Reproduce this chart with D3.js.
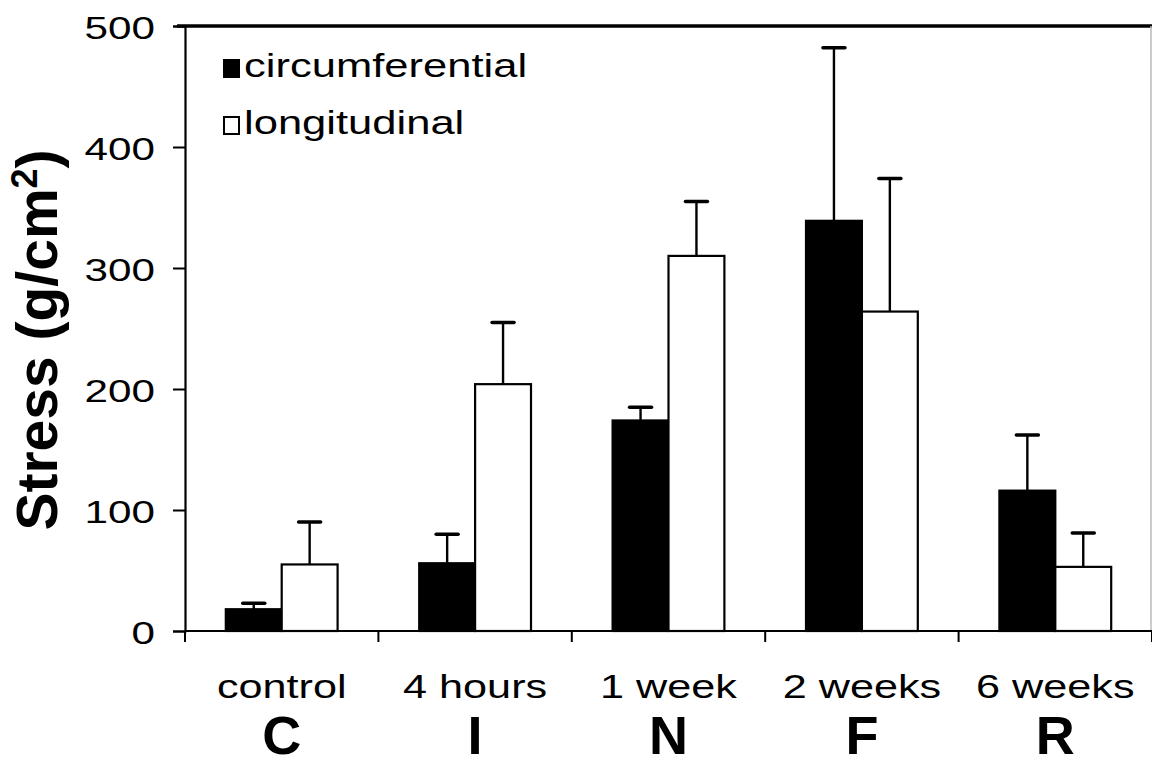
<!DOCTYPE html>
<html>
<head>
<meta charset="utf-8">
<script src="https://cdn.jsdelivr.net/npm/d3@7.9.0/dist/d3.min.js"></script>
<style>
  html, body { margin: 0; padding: 0; background: #fff; }
  svg { display: block; font-family: "Liberation Sans", Arial, sans-serif; }
</style>
</head>
<body>
<div id="chart"></div>
<script>
// data
const categories = ["control", "4 hours", "1 week", "2 weeks", "6 weeks"];
const letters = ["C", "I", "N", "F", "R"];
const series = ["circumferential", "longitudinal"];
const circValues = [18, 56, 174, 339, 116];
const circErrors = [5, 24, 11, 143, 46];
const longValues = [55, 204, 310, 264, 53];
const longErrors = [35, 51, 45, 110, 28];
const yTicks = [0, 100, 200, 300, 400, 500];

const width = 1152, height = 766;
const plotLeft = 185, plotRight = 1152, plotTop = 26, plotBottom = 631;
const stretch = 1.32; // regular text in the figure is drawn wide

const svg = d3.select("#chart").append("svg")
  .attr("width", width)
  .attr("height", height);

const x0 = d3.scaleBand().domain(categories).range([plotLeft, plotRight]).padding(0);
const x1 = d3.scaleBand().domain(series).range([0, x0.bandwidth()]).paddingInner(0).paddingOuter(0.73);
const y = d3.scaleLinear().domain([0, 500]).range([plotBottom, plotTop]);

const rows = categories.map((c, i) => ({
  cat: c,
  bars: [
    { s: series[0], v: circValues[i], e: circErrors[i] },
    { s: series[1], v: longValues[i], e: longErrors[i] }
  ]
}));

// frame: heavy top line, faint right edge
svg.append("line")
  .attr("x1", plotLeft - 8).attr("x2", plotRight)
  .attr("y1", y(500)).attr("y2", y(500))
  .attr("stroke", "#000").attr("stroke-width", 3.5);
svg.append("line")
  .attr("x1", plotRight - 1).attr("x2", plotRight - 1)
  .attr("y1", y(500)).attr("y2", y(0))
  .attr("stroke", "#bbb").attr("stroke-width", 1.5);

// bars
const groups = svg.selectAll(".grp")
  .data(rows)
  .enter().append("g")
  .attr("class", "grp")
  .attr("transform", d => `translate(${x0(d.cat)},0)`);

groups.selectAll("rect")
  .data(d => d.bars)
  .enter().append("rect")
  .attr("x", d => x1(d.s))
  .attr("y", d => y(d.v))
  .attr("width", x1.bandwidth())
  .attr("height", d => y(0) - y(d.v))
  .attr("fill", d => d.s === series[0] ? "#000" : "#fff")
  .attr("stroke", "#000")
  .attr("stroke-width", 2.2);

// error bars (upper only)
groups.selectAll(".err")
  .data(d => d.bars)
  .enter().append("line")
  .attr("class", "err")
  .attr("x1", d => x1(d.s) + x1.bandwidth() / 2)
  .attr("x2", d => x1(d.s) + x1.bandwidth() / 2)
  .attr("y1", d => y(d.v))
  .attr("y2", d => y(d.v + d.e))
  .attr("stroke", "#000").attr("stroke-width", 2.4);

groups.selectAll(".cap")
  .data(d => d.bars)
  .enter().append("line")
  .attr("class", "cap")
  .attr("x1", d => x1(d.s) + x1.bandwidth() / 2 - 11)
  .attr("x2", d => x1(d.s) + x1.bandwidth() / 2 + 11)
  .attr("y1", d => y(d.v + d.e))
  .attr("y2", d => y(d.v + d.e))
  .attr("stroke", "#000").attr("stroke-width", 3.5)
  .attr("stroke-linecap", "round");

// y axis
const yAxis = svg.append("g")
  .attr("transform", `translate(${plotLeft},0)`)
  .call(d3.axisLeft(y).tickValues(yTicks).tickSize(12).tickFormat(d3.format("d")));
yAxis.select(".domain").attr("stroke", "#000").attr("stroke-width", 2.2);
yAxis.selectAll(".tick line").attr("stroke", "#000").attr("stroke-width", 2);
yAxis.selectAll(".tick text").remove();
yAxis.selectAll(".tick").append("text")
  .attr("transform", `translate(-30,12) scale(${stretch},1)`)
  .attr("text-anchor", "end")
  .attr("font-size", 32)
  .attr("fill", "#000")
  .text(d => d);

// x axis with boundary ticks
const xAxis = svg.append("g");
xAxis.append("line")
  .attr("x1", plotLeft).attr("x2", plotRight)
  .attr("y1", y(0)).attr("y2", y(0))
  .attr("stroke", "#000").attr("stroke-width", 2.2);
const bounds = categories.map(c => x0(c)).concat([x0(categories[categories.length - 1]) + x0.bandwidth()]);
xAxis.selectAll(".bt")
  .data(bounds)
  .enter().append("line")
  .attr("class", "bt")
  .attr("x1", d => d).attr("x2", d => d)
  .attr("y1", y(0)).attr("y2", y(0) + 11)
  .attr("stroke", "#000").attr("stroke-width", 2);

// category labels
svg.selectAll(".cat")
  .data(categories)
  .enter().append("text")
  .attr("class", "cat")
  .attr("transform", d => `translate(${x0(d) + x0.bandwidth() / 2},698) scale(1.27,1)`)
  .attr("text-anchor", "middle")
  .attr("font-size", 34)
  .text(d => d);

svg.selectAll(".letter")
  .data(categories)
  .enter().append("text")
  .attr("class", "letter")
  .attr("x", d => x0(d) + x0.bandwidth() / 2)
  .attr("y", 754)
  .attr("text-anchor", "middle")
  .attr("font-size", 54)
  .attr("font-weight", "bold")
  .text((d, i) => letters[i]);

// y label
const yl = svg.append("text")
  .attr("transform", "translate(57,340) rotate(-90)")
  .attr("text-anchor", "middle")
  .attr("font-size", 57)
  .attr("font-weight", "bold");
yl.append("tspan").text("Stress (g/cm");
yl.append("tspan").attr("font-size", 36).attr("dy", -20).text("2");
yl.append("tspan").attr("dy", 20).text(")");

// legend
const legend = svg.append("g").attr("transform", "translate(223,59)");
const items = legend.selectAll("g")
  .data(series)
  .enter().append("g")
  .attr("transform", (d, i) => `translate(0,${i * 57})`);
items.append("rect")
  .attr("x", 1).attr("y", 1)
  .attr("width", 15).attr("height", 17)
  .attr("fill", (d, i) => i === 0 ? "#000" : "#fff")
  .attr("stroke", "#000").attr("stroke-width", 2);
items.append("text")
  .attr("transform", `translate(21,18) scale(${stretch},1)`)
  .attr("font-size", 33)
  .text(d => d);
</script>
</body>
</html>
